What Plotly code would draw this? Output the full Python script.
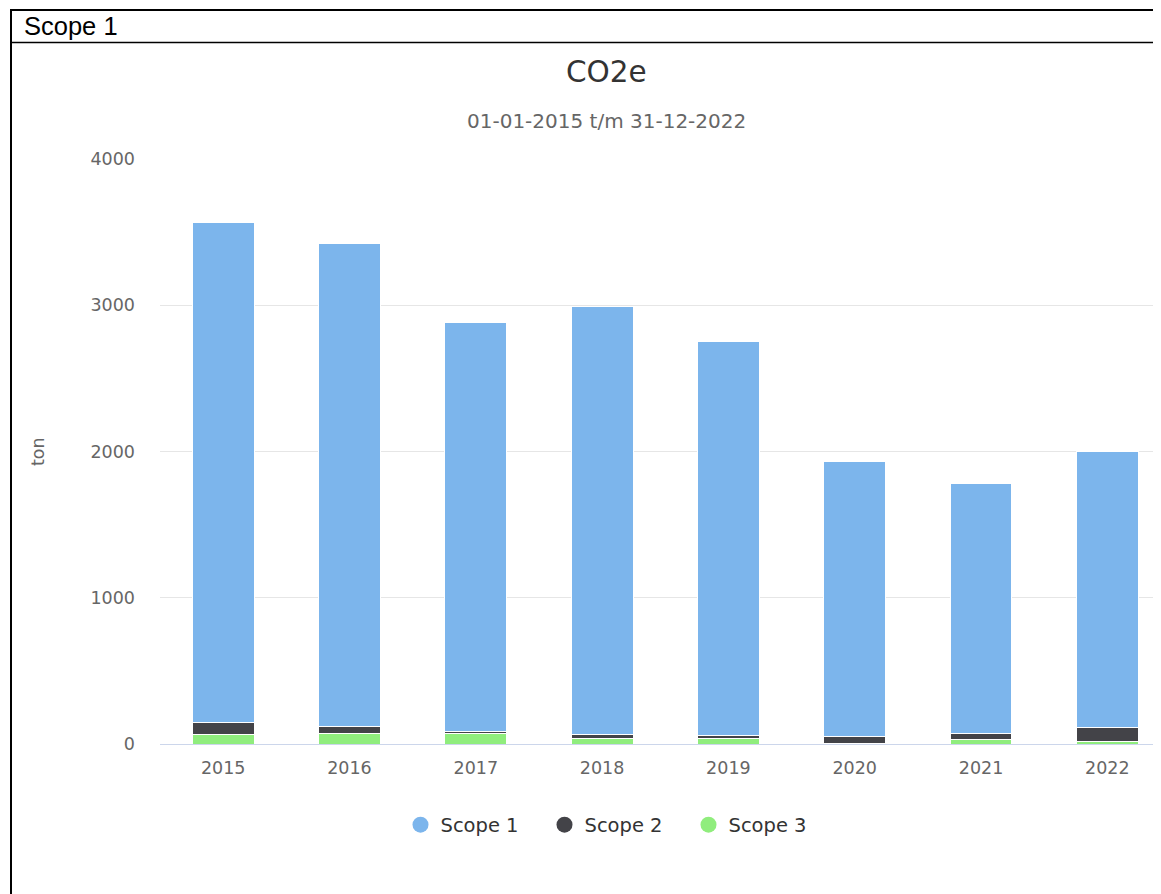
import plotly.graph_objects as go

years = ["2015", "2016", "2017", "2018", "2019", "2020", "2021", "2022"]
scope1 = [3415, 3300, 2800, 2925, 2695, 1880, 1710, 1885]
scope2 = [85, 45, 10, 25, 15, 45, 40, 95]
scope3 = [65, 75, 75, 40, 40, 5, 30, 20]
series_names = ["Scope 1", "Scope 2", "Scope 3"]
colors = ["#7cb5ec", "#434348", "#90ed7d"]

OFF = 8  # page body margin
W, H = 1153, 886
ML, MR, MT, MB = 152, 0, 151, 150
PW = W - ML - MR
PH = H - MT - MB


def px_x(x):
    return (x - OFF - ML) / PW


def px_y(y):
    return (H - MB - (y - OFF)) / PH


FONT = "DejaVu Sans"
fig = go.Figure()

# stacked bars: Scope 3 at bottom, Scope 1 on top
for name, vals, col in [("Scope 3", scope3, colors[2]),
                        ("Scope 2", scope2, colors[1]),
                        ("Scope 1", scope1, colors[0])]:
    fig.add_trace(go.Bar(
        x=years, y=vals, name=name, marker=dict(color=col, line=dict(color="white", width=1)),
        width=0.49, showlegend=False, hoverinfo="x+y+name"))

# legend entries with circle symbols
for name, col in zip(series_names, colors):
    fig.add_trace(go.Scatter(
        x=[None], y=[None], mode="markers", name=name,
        marker=dict(symbol="circle", size=20, color=col), showlegend=True))

fig.update_layout(
    width=W, height=H,
    margin=dict(l=ML, r=MR, t=MT, b=MB),
    paper_bgcolor="white", plot_bgcolor="white",
    barmode="stack", bargap=0.5,
    font=dict(family=FONT, color="#666666"),
    showlegend=True,
    legend=dict(orientation="h", x=px_x(616.5), xanchor="center", y=px_y(825), yanchor="middle",
                font=dict(family=FONT, size=19.5, color="#333333"), traceorder="normal",
                itemwidth=30, entrywidth=99, bgcolor="rgba(0,0,0,0)"),
    xaxis=dict(type="category", range=[-0.5, 7.425], showgrid=False, showline=True,
               linecolor="#ccd6eb", linewidth=1, ticks="", zeroline=False,
               tickfont=dict(family=FONT, size=17.5, color="#666666"), ticklabelstandoff=8),
    yaxis=dict(range=[0, 4000], tickvals=[0, 1000, 2000, 3000, 4000], showgrid=True,
               gridcolor="#e6e6e6", gridwidth=1, zeroline=False, showline=False,
               tickfont=dict(family=FONT, size=17.5, color="#666666"), ticklabelstandoff=24),
)

annotations = [
    dict(text="CO2e", x=px_x(606), y=px_y(72), xref="paper", yref="paper", showarrow=False,
         xanchor="center", yanchor="middle", font=dict(family=FONT, size=29.5, color="#333333")),
    dict(text="01-01-2015 t/m 31-12-2022", x=px_x(606), y=px_y(121), xref="paper", yref="paper",
         showarrow=False, xanchor="center", yanchor="middle",
         font=dict(family=FONT, size=20, color="#666666")),
    dict(text="ton", x=px_x(38), y=px_y(452), xref="paper", yref="paper", showarrow=False,
         textangle=-90, xanchor="center", yanchor="middle",
         font=dict(family=FONT, size=17.5, color="#666666")),
    dict(text="Scope 1", x=px_x(22), y=px_y(26), xref="paper", yref="paper", showarrow=False,
         xanchor="left", yanchor="middle",
         font=dict(family="Liberation Sans", size=25.5, color="#000000")),
]
fig.update_layout(annotations=annotations)

shapes = [
    dict(type="line", xref="paper", yref="paper", x0=px_x(10), x1=px_x(1175), y0=px_y(10), y1=px_y(10),
         line=dict(color="black", width=2)),
    dict(type="line", xref="paper", yref="paper", x0=px_x(11), x1=px_x(11), y0=px_y(9), y1=px_y(910),
         line=dict(color="black", width=2)),
    dict(type="line", xref="paper", yref="paper", x0=px_x(10), x1=px_x(1175), y0=px_y(42.5), y1=px_y(42.5),
         line=dict(color="black", width=1.5)),
]
fig.update_layout(shapes=shapes)

fig.write_html("out.html")
